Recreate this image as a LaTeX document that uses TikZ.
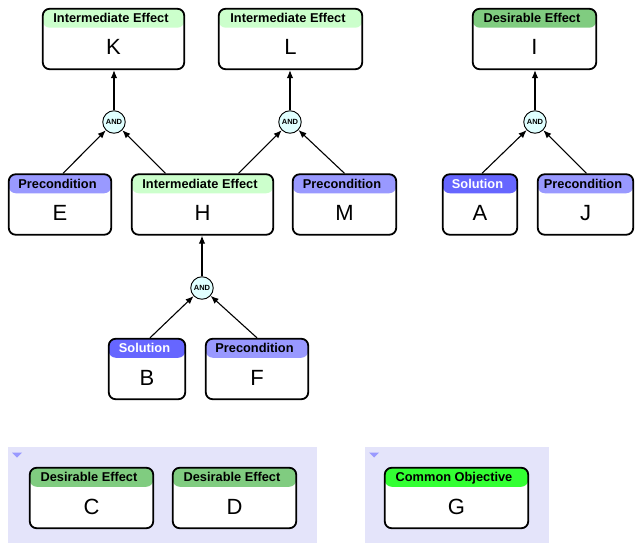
\documentclass[tikz,border=0pt]{standalone}
\usepackage{fontspec}
\setmainfont{Liberation Sans}
\usepackage{tikz}
\usetikzlibrary{arrows.meta,positioning,calc}

\definecolor{iegreen}{RGB}{204,255,204}
\definecolor{degreen}{RGB}{128,204,128}
\definecolor{cogreen}{RGB}{51,255,51}
\definecolor{preblue}{RGB}{153,153,255}
\definecolor{solblue}{RGB}{102,102,255}
\definecolor{groupbg}{RGB}{228,228,250}
\definecolor{andcyan}{RGB}{224,255,255}

\begin{document}
\begin{tikzpicture}[x=1pt, y=-1pt,
    box/.style={rectangle, draw=black, line width=1.8pt, rounded corners=7pt,
                fill=white, minimum height=60.5pt, inner sep=0pt,
                text height=38pt, text depth=6pt,
                font=\fontsize{22}{22}\selectfont},
    hdr/.style n args={3}{
        path picture={\fill[#2] ([yshift=2pt]path picture bounding box.north west)
                      rectangle ([yshift=-19pt]path picture bounding box.north east);},
        label={[anchor=base, xshift=-2.5pt, yshift=-15pt, inner sep=0pt,
                text=#3, font=\fontsize{12.8}{12.8}\selectfont\bfseries]north:#1}},
    ie/.style={hdr={Intermediate Effect}{iegreen}{black}},
    de/.style={hdr={Desirable Effect}{degreen}{black}},
    co/.style={hdr={Common Objective}{cogreen}{black}},
    pre/.style={hdr={Precondition}{preblue}{black}},
    sol/.style={hdr={Solution}{solblue}{white}},
    andnode/.style={circle, draw=black, line width=0.9pt, fill=andcyan,
                    minimum size=22.5pt, inner sep=0pt,
                    font=\fontsize{7.5}{7.5}\selectfont\bfseries},
    arrow/.style={-{Latex[length=8pt,width=6.5pt]}, line width=1.1pt, black},
    group/.style={fill=groupbg}]

\useasboundingbox (0,0) rectangle (635,543);

% groups
\fill[group] (8,447) rectangle (317,543);
\fill[group] (365,447) rectangle (549,543);
\fill[preblue] (12,452.5) -- (22,452.5) -- (17,457.5) -- cycle;
\fill[preblue] (369,452.5) -- (379,452.5) -- (374,457.5) -- cycle;

% top row
\node[box, ie, minimum width=141.5pt] (K) at (113.5,39) {K};
\node[box, ie, minimum width=143.5pt] (L) at (290.5,39) {L};
\node[box, de, minimum width=123.5pt] (I) at (534.5,39) {I};

\node[andnode] (andK) at (114,122) {AND};
\node[andnode] (andL) at (290,122) {AND};
\node[andnode] (andI) at (535,122) {AND};

% middle row
\node[box, pre, minimum width=102.5pt] (E) at (60,204.5) {E};
\node[box, ie,  minimum width=141.5pt] (H) at (202.5,204.5) {H};
\node[box, pre, minimum width=103.5pt] (M) at (344.5,204.5) {M};
\node[box, sol, minimum width=74.5pt]  (A) at (480,204.5) {A};
\node[box, pre, minimum width=95.5pt]  (J) at (585.5,204.5) {J};

\node[andnode] (andH) at (202,288) {AND};

% bottom row
\node[box, sol, minimum width=76.5pt]  (B) at (147,369) {B};
\node[box, pre, minimum width=102.5pt] (F) at (257,369) {F};

% grouped
\node[box, de, minimum width=123.5pt] (C) at (91.5,498) {C};
\node[box, de, minimum width=123.5pt] (D) at (234.5,498) {D};
\node[box, co, minimum width=143.5pt] (G) at (456.5,498) {G};

% connectors
\draw[arrow] (andK) -- (andK |- K.south);
\draw[arrow] (andL) -- (andL |- L.south);
\draw[arrow] (andI) -- (andI |- I.south);
\draw[arrow] (andH) -- (andH |- H.south);
\draw[arrow] ([xshift=3pt]E.north) -- (andK);
\draw[arrow] ([xshift=-37pt]H.north) -- (andK);
\draw[arrow] ([xshift=36pt]H.north) -- (andL);
\draw[arrow] (M.north) -- (andL);
\draw[arrow] ([xshift=2pt]A.north) -- (andI);
\draw[arrow] ([xshift=1pt]J.north) -- (andI);
\draw[arrow] ([xshift=3pt]B.north) -- (andH);
\draw[arrow] (F.north) -- (andH);
\end{tikzpicture}
\end{document}
